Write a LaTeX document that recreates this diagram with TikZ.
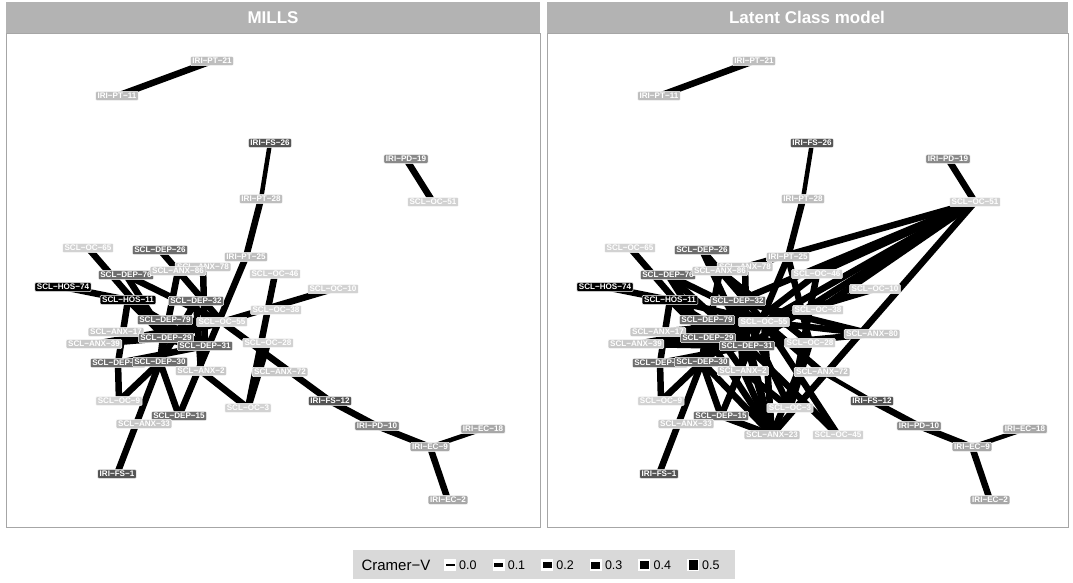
\documentclass[tikz,border=0pt]{standalone}
\usepackage{fontspec}
\setmainfont{Liberation Sans}
\definecolor{ocgray}{HTML}{D2D2D2}
\definecolor{anxgray}{HTML}{C8C8C8}
\definecolor{ptgray}{HTML}{BEBEBE}
\definecolor{ecgray}{HTML}{A8A8A8}
\definecolor{pdgray}{HTML}{8A8A8A}
\definecolor{depgray}{HTML}{6E6E6E}
\definecolor{fsgray}{HTML}{555555}
\definecolor{stripgray}{HTML}{B3B3B3}
\definecolor{framegray}{HTML}{A6A6A6}
\definecolor{leggray}{HTML}{D9D9D9}
\pgfdeclarelayer{back}
\pgfdeclarelayer{edges}
\pgfsetlayers{back,edges,main}
\tikzset{
  lab/.style={rounded corners=1.2pt, draw=white, line width=0.5pt, text=white,
    inner xsep=2pt, inner ysep=1.6pt, text height=5.9pt, text depth=0.2pt,
    font=\fontsize{8.1}{8}\selectfont\bfseries},
  ocbox/.style={lab, fill=ocgray},
  anxbox/.style={lab, fill=anxgray},
  ptbox/.style={lab, fill=ptgray},
  ecbox/.style={lab, fill=ecgray},
  pdbox/.style={lab, fill=pdgray},
  depbox/.style={lab, fill=depgray},
  fsbox/.style={lab, fill=fsgray},
  hosbox/.style={lab, fill=black},
  edge/.style={line width=6.5pt},
  thinedge/.style={line width=4.5pt},
  title/.style={text=white, font=\fontsize{17}{17}\selectfont\bfseries},
}
\begin{document}
\begin{tikzpicture}[x=1pt,y=-1pt]
  \useasboundingbox (0,0) rectangle (1073,582);
  \foreach \p/\s in {l/0, r/542} {
    \begin{scope}[xshift=\s]
      \node[ptbox] (\p-pt21) at (212,61) {IRI−PT−21};
      \node[ptbox] (\p-pt11) at (117,96) {IRI−PT−11};
      \node[fsbox] (\p-fs26) at (270,143) {IRI−FS−26};
      \node[ptbox] (\p-pt28) at (261,199) {IRI−PT−28};
      \node[pdbox] (\p-pd19) at (406,159) {IRI−PD−19};
      \node[ocbox] (\p-oc51) at (433,202) {SCL−OC−51};
      \node[ocbox] (\p-oc65) at (88,248) {SCL−OC−65};
      \node[depbox] (\p-dep26) at (160,250) {SCL−DEP−26};
      \node[ptbox] (\p-pt25) at (246,257) {IRI−PT−25};
      \node[anxbox] (\p-anx78) at (203,267) {SCL−ANX−78};
      \node[depbox] (\p-dep76) at (126,275) {SCL−DEP−76};
      \node[anxbox] (\p-anx86) at (178,271) {SCL−ANX−86};
      \node[ocbox] (\p-oc46) at (275,274) {SCL−OC−46};
      \node[hosbox] (\p-hos74) at (63,287) {SCL−HOS−74};
      \node[ocbox] (\p-oc10) at (333,289) {SCL−OC−10};
      \node[hosbox] (\p-hos11) at (128,300) {SCL−HOS−11};
      \node[depbox] (\p-dep32) at (196,301) {SCL−DEP−32};
      \node[ocbox] (\p-oc38) at (276,310) {SCL−OC−38};
      \node[depbox] (\p-dep79) at (165,320) {SCL−DEP−79};
      \node[ocbox] (\p-oc55) at (222,322) {SCL−OC−55};
      \node[anxbox] (\p-anx17) at (116,332) {SCL−ANX−17};
      \node[depbox] (\p-dep29) at (166,338) {SCL−DEP−29};
      \node[anxbox] (\p-anx39) at (94,344) {SCL−ANX−39};
      \node[depbox] (\p-dep31) at (205,346) {SCL−DEP−31};
      \node[ocbox] (\p-oc28) at (268,343) {SCL−OC−28};
      \node[depbox] (\p-dep33) at (118,363) {SCL−DEP−33};
      \node[depbox] (\p-dep30) at (160,362) {SCL−DEP−30};
      \node[anxbox] (\p-anx2) at (201,371) {SCL−ANX−2};
      \node[anxbox] (\p-anx72) at (280,372) {SCL−ANX−72};
      \node[ocbox] (\p-oc9) at (119,401) {SCL−OC−9};
      \node[fsbox] (\p-fs12) at (330,401) {IRI−FS−12};
      \node[ocbox] (\p-oc3) at (248,408) {SCL−OC−3};
      \node[depbox] (\p-dep15) at (179,416) {SCL−DEP−15};
      \node[anxbox] (\p-anx33) at (144,424) {SCL−ANX−33};
      \node[pdbox] (\p-pd10) at (377,426) {IRI−PD−10};
      \node[ecbox] (\p-ec18) at (483,429) {IRI−EC−18};
      \node[ecbox] (\p-ec9) at (430,447) {IRI−EC−9};
      \node[fsbox] (\p-fs1) at (117,474) {IRI−FS−1};
      \node[ecbox] (\p-ec2) at (448,500) {IRI−EC−2};
    \end{scope}
  }
  \begin{scope}[xshift=542]
    \node[anxbox] (r-anx80) at (330,334) {SCL−ANX−80};
    \node[anxbox] (r-anx23) at (230,435) {SCL−ANX−23};
    \node[ocbox] (r-oc45) at (296,435) {SCL−OC−45};
  \end{scope}

  \begin{pgfonlayer}{back}
    \fill[white] (0,0) rectangle (1073,582);
    \fill[stripgray] (6,2) rectangle (540,33);
    \fill[stripgray] (547,2) rectangle (1068,33);
    \draw[framegray, line width=0.8pt] (6,33) rectangle (540,527);
    \draw[framegray, line width=0.8pt] (547,33) rectangle (1068,527);
  \end{pgfonlayer}
  \node[title] (t-mills) at (273,17.5) {MILLS};
  \node[title] (t-lcm) at (807,17.5) {Latent Class model};

  \begin{pgfonlayer}{edges}
    \foreach \p in {l, r} {
      \foreach \a/\b in {pt11/pt21, pt28/pt25, pd19/oc51, oc65/dep29, dep26/oc55,
          hos74/hos11, dep76/oc55, anx86/dep30, hos11/dep29, hos11/dep31,
          anx17/dep31, anx39/dep29, anx39/oc55, dep79/oc55, dep32/dep30,
          dep32/anx2, dep29/oc55, oc10/oc55, oc46/oc3, oc28/oc3, anx2/oc3,
          pt25/dep15, anx78/dep31, dep30/dep15, dep30/fs1, oc9/dep30,
          dep33/oc9, dep33/dep31, hos11/dep33, dep76/dep29, dep79/dep30,
          fs12/pd10, pd10/ec9, ec9/ec2}
        \draw[edge] (\p-\a.center) -- (\p-\b.center);
      \foreach \a/\b in {fs26/pt28, ec9/ec18}
        \draw[thinedge] (\p-\a.center) -- (\p-\b.center);
    }
    \draw[edge] (l-oc55.center) -- (l-fs12.center);
    \draw[thinedge] (r-anx72.center) -- (r-fs12.center);
    \foreach \a/\b in {oc51/anx78, oc51/oc46, oc51/dep32, oc51/oc55, oc51/dep31,
        oc51/anx23, oc51/oc38, anx80/oc55, anx80/dep32, anx80/dep31, oc45/oc55,
        oc45/dep31, anx23/dep30, anx23/dep29, anx23/dep31, anx23/oc55, anx23/anx2,
        anx23/oc28, anx23/dep32, anx23/dep15, oc3/dep32, anx72/oc55, oc28/dep29,
        dep79/anx2, hos11/oc55, dep26/dep31, anx86/oc28, dep76/dep31, oc38/dep29,
        anx17/oc55, anx39/dep31, oc46/dep30, pt25/oc28}
      \draw[edge] (r-\a.center) -- (r-\b.center);
  \end{pgfonlayer}

  \fill[leggray] (353,550) rectangle (735,579);
  \node[anchor=west, font=\fontsize{15}{15}\selectfont] (leg) at (358,565) {Cramer−V};
  \foreach \i/\h in {0/1.5, 1/4, 2/5.5, 3/7, 4/8.5, 5/10} {
    \fill[white] (450+48.6*\i-6,559) rectangle (450+48.6*\i+6,571);
    \fill[black] (450+48.6*\i-4.5,565-\h/2) rectangle (450+48.6*\i+4.5,565+\h/2);
    \node[anchor=west, font=\fontsize{12.5}{13}\selectfont, inner sep=0pt] (k\i) at (450+48.6*\i+9,565) {0.\i};
  }
\end{tikzpicture}
\end{document}
